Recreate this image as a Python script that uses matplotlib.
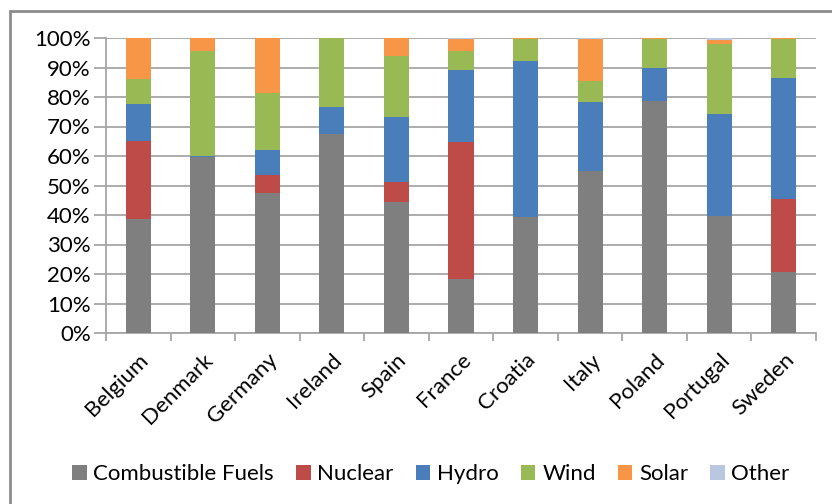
import numpy as np
import matplotlib.pyplot as plt
from matplotlib.patches import Rectangle

plt.rcParams['font.family'] = ['Lato', 'DejaVu Sans']

countries = ['Belgium', 'Denmark', 'Germany', 'Ireland', 'Spain', 'France',
             'Croatia', 'Italy', 'Poland', 'Portugal', 'Sweden']
sources = ['Combustible Fuels', 'Nuclear', 'Hydro', 'Wind', 'Solar', 'Other']
colors = ['#7f7f7f', '#be4b48', '#4a7ebb', '#98b954', '#f79646', '#b9c8e0']

# shares in percent
combustible = [38.8, 59.8, 47.6, 67.5, 44.5, 18.2, 39.3, 55.0, 78.7, 39.8, 20.8]
nuclear     = [26.3,  0.0,  6.0,  0.0,  6.8, 46.7,  0.0,  0.0,  0.0,  0.0, 24.5]
hydro       = [12.5,  0.3,  8.6,  9.1, 21.9, 24.1, 53.0, 23.4, 11.0, 34.4, 41.3]
wind        = [ 8.6, 35.6, 19.2, 23.4, 20.7,  6.7,  7.2,  6.9, 10.0, 23.9, 13.1]
solar       = [13.8,  4.3, 18.6,  0.0,  6.1,  3.9,  0.5, 14.2,  0.3,  1.2,  0.3]
other       = [ 0.0,  0.0,  0.0,  0.0,  0.0,  0.4,  0.0,  0.5,  0.0,  0.7,  0.0]

series = [combustible, nuclear, hydro, wind, solar, other]

fig = plt.figure(figsize=(8.32, 5.04), dpi=100)
ax = fig.add_axes([106/832, 1 - 333/504, 710/832, 295/504])

x = np.arange(len(countries))
bottom = np.zeros(len(countries))
for name, vals, c in zip(sources, series, colors):
    vals = np.array(vals)
    ax.bar(x, vals, 0.39, bottom=bottom, color=c, label=name, zorder=3)
    bottom += vals

ax.set_xlim(-0.5, len(countries) - 0.5)
ax.set_ylim(0, 100)
ax.set_yticks(np.arange(0, 101, 10))
ax.set_yticklabels(['%d%%' % v for v in range(0, 101, 10)], fontsize=16)
ax.yaxis.grid(True, color='#a6a6a6', linewidth=1.3, zorder=0)
ax.tick_params(axis='y', length=9, width=1.3, color='#a6a6a6', pad=2)

ax.set_xticks(x)
ax.set_xticklabels(countries, rotation=45, ha='right', rotation_mode='anchor', fontsize=16)
ax.set_xticks(np.arange(-0.5, len(countries)), minor=True)
ax.tick_params(axis='x', which='major', length=0, pad=12)
ax.tick_params(axis='x', which='minor', length=6, width=1.3, color='#a6a6a6')

for s in ['top', 'right']:
    ax.spines[s].set_visible(False)
for s in ['left', 'bottom']:
    ax.spines[s].set_color('#a6a6a6')
    ax.spines[s].set_linewidth(1.3)

ax.legend(loc='center', bbox_to_anchor=(431/832, 1 - 474/504), bbox_transform=fig.transFigure,
          ncol=6, frameon=False, fontsize=16, handlelength=0.65, handleheight=0.65,
          handletextpad=0.3, columnspacing=1.0)

fig.patches.append(Rectangle((10/832, -0.05), 1.05, 1 - 11/504 + 0.05, transform=fig.transFigure,
                             fill=False, edgecolor='#8c8c8c', linewidth=2))

fig.savefig('out.png', dpi=100)
